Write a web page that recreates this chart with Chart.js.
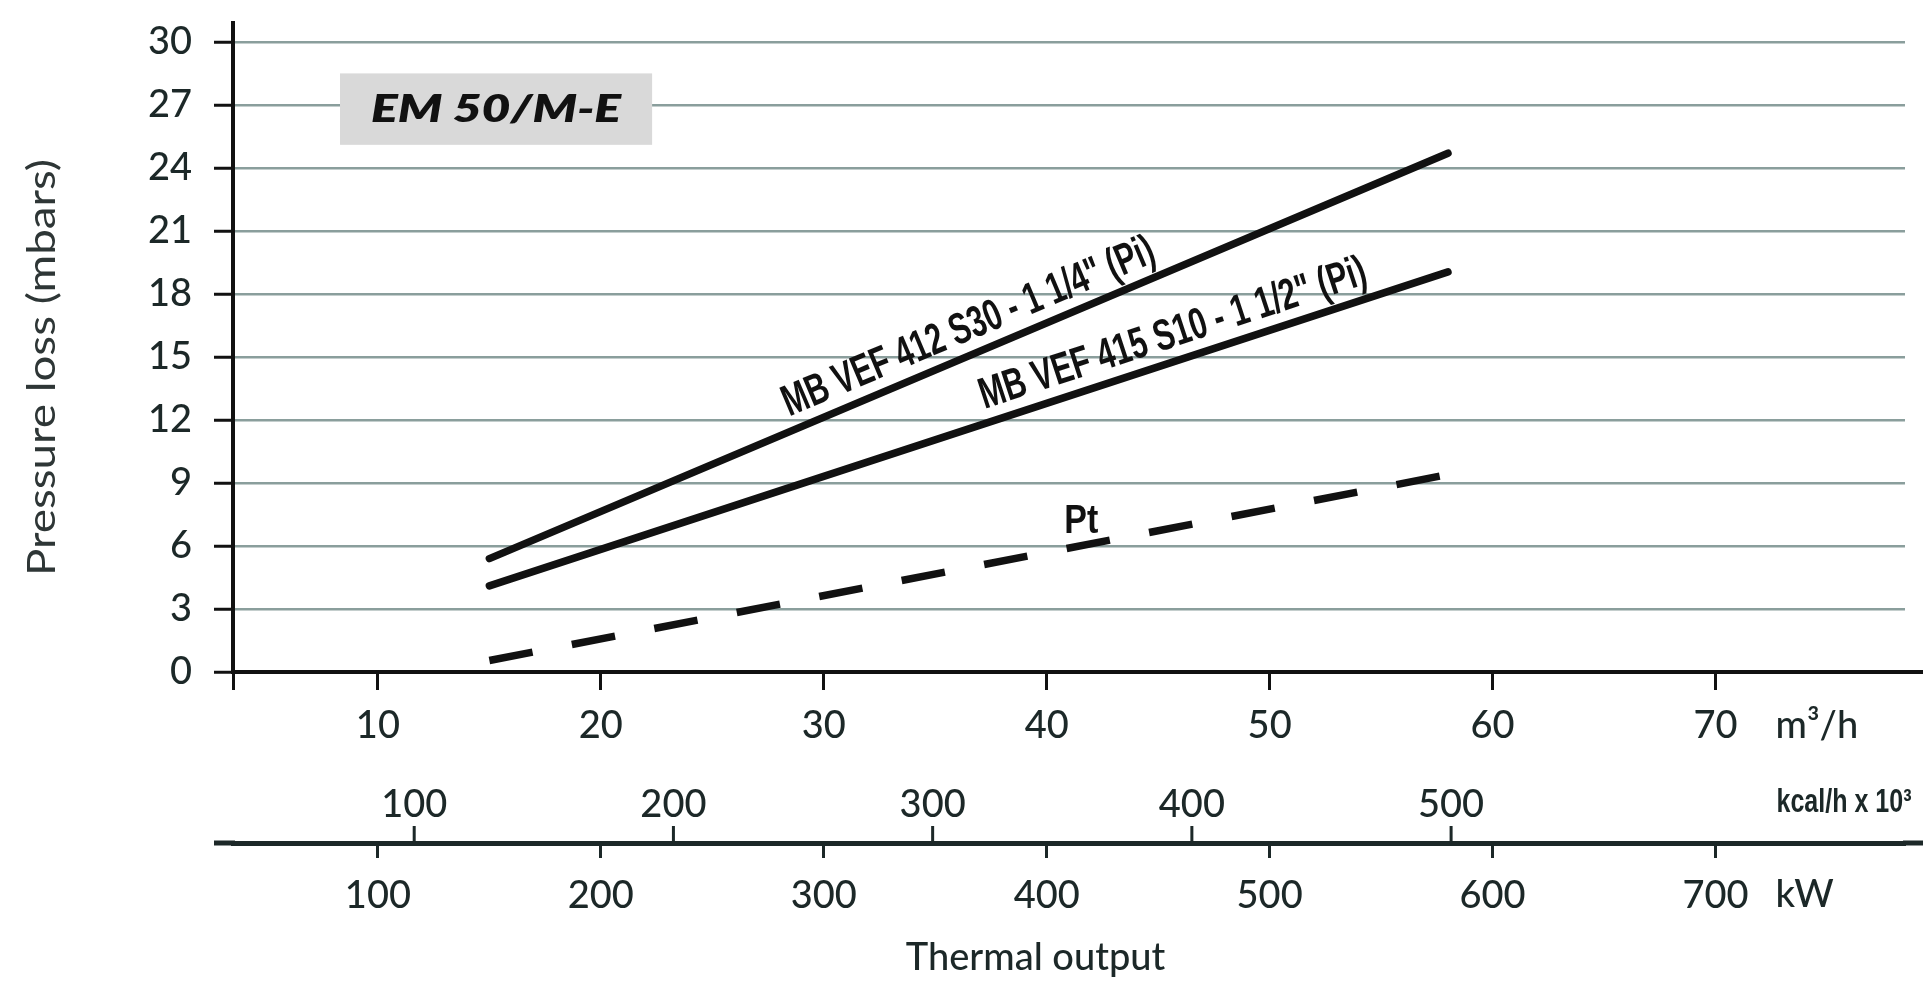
<!DOCTYPE html>
<html>
<head>
<meta charset="utf-8">
<title>EM 50/M-E pressure loss</title>
<script src="https://cdn.jsdelivr.net/npm/chart.js@4.4.1/dist/chart.umd.min.js"></script>
<style>
  html, body { margin: 0; padding: 0; background: #fff; }
  #wrap { width: 1923px; height: 994px; position: relative; }
</style>
</head>
<body>
<div id="wrap"><canvas id="lossChart"></canvas></div>
<script>
// curves (flow in m3/h, loss in mbar)
const flowPoints = [15, 58];
const lossVef412 = [5.4, 24.7];
const lossVef415 = [4.1, 19.05];
const lossPt = [0.55, 9.4];

const pressureTicks = [0, 3, 6, 9, 12, 15, 18, 21, 24, 27, 30];
const flowTicks = [10, 20, 30, 40, 50, 60, 70];
const kcalTicks = [100, 200, 300, 400, 500];
const kwTicks = [100, 200, 300, 400, 500, 600, 700];

const flowMin = 3.5, flowMax = 78.5;
const KCAL_PER_M3 = 8.6;   // kcal/h x 10^3 for 1 m3/h of gas
const KW_PER_M3 = 10;

const ink = '#1c2828';
const tickFont = { family: 'Lato', size: 38, weight: 500 };

// fixes the box sizes so the plot lands where the original one is
const fixSize = (prop, val) => (s) => {
    s[prop] = val;
    s.paddingTop = 0; s.paddingBottom = 0; s.paddingLeft = 0; s.paddingRight = 0;
};
const setTicks = (vals) => (s) => { s.ticks = vals.map(v => ({ value: v })); };

const fitText = (ctx, text, x, y, width) => {
    const w = ctx.measureText(text).width;
    ctx.save();
    ctx.translate(x, y);
    ctx.scale(width / w, 1);
    ctx.fillText(text, 0, 0);
    ctx.restore();
};

// label written along a curve, a little above it
const drawAlong = (chart, xs, ys, atFlow, text, width) => {
    const { ctx, scales: { x, y } } = chart;
    const xa = x.getPixelForValue(xs[0]), ya = y.getPixelForValue(ys[0]);
    const xb = x.getPixelForValue(xs[xs.length - 1]), yb = y.getPixelForValue(ys[ys.length - 1]);
    const px = x.getPixelForValue(atFlow);
    const py = ya + (yb - ya) * (px - xa) / (xb - xa);
    ctx.save();
    ctx.translate(px, py);
    ctx.rotate(Math.atan2(yb - ya, xb - xa));
    ctx.font = 'bold 44px "Liberation Sans"';
    ctx.fillStyle = '#111';
    ctx.textAlign = 'left';
    ctx.textBaseline = 'alphabetic';
    fitText(ctx, text, 0, -14, width);
    ctx.restore();
};

const diagramText = {
    id: 'diagramText',
    beforeDatasetsDraw(chart) {
        const { ctx, chartArea, scales: { x, y, kw } } = chart;
        ctx.save();
        // model badge
        const l = x.getPixelForValue(8.3), r = x.getPixelForValue(22.3);
        const t = y.getPixelForValue(28.5), b = y.getPixelForValue(25.1);
        ctx.fillStyle = '#d9d9d9';
        ctx.fillRect(l, t, r - l, b - t);
        ctx.fillStyle = '#111';
        ctx.font = 'italic 800 38px Lato';
        ctx.textAlign = 'center';
        ctx.textBaseline = 'middle';
        fitText(ctx, 'EM 50/M-E', (l + r) / 2, (t + b) / 2 + 1, 250);

        // axis title
        ctx.fillStyle = '#2e3636';
        ctx.font = '38px Lato';
        ctx.save();
        ctx.translate(43, y.getPixelForValue(14.5));
        ctx.rotate(-Math.PI / 2);
        fitText(ctx, 'Pressure loss (mbars)', 0, 0, 417);
        ctx.restore();

        // bottom lines run on to the page edge, the kW line also to the left
        ctx.strokeStyle = '#111';
        ctx.lineWidth = 4;
        ctx.beginPath();
        ctx.moveTo(chartArea.right - 2, x.top);
        ctx.lineTo(chart.width, x.top);
        ctx.stroke();
        ctx.strokeStyle = ink;
        ctx.lineWidth = 5;
        ctx.beginPath();
        ctx.moveTo(kw.left - 19, kw.top);
        ctx.lineTo(kw.left + 2, kw.top);
        ctx.moveTo(kw.right - 2, kw.top);
        ctx.lineTo(chart.width, kw.top);
        ctx.stroke();
        ctx.restore();
    },
    afterDatasetsDraw(chart) {
        const { ctx, scales: { x, y, kcal, kw } } = chart;
        drawAlong(chart, flowPoints, lossVef412, 28.7, 'MB VEF 412 S30 - 1 1/4" (Pi)', 400);
        drawAlong(chart, flowPoints, lossVef415, 37.4, 'MB VEF 415 S10 - 1 1/2" (Pi)', 405);

        ctx.save();
        // Pt label over the dashed curve
        const ptX = x.getPixelForValue(41.55);
        const ya = y.getPixelForValue(lossPt[0]), yb = y.getPixelForValue(lossPt[1]);
        const xa = x.getPixelForValue(flowPoints[0]), xb = x.getPixelForValue(flowPoints[1]);
        const ptY = ya + (yb - ya) * (ptX - xa) / (xb - xa);
        ctx.fillStyle = '#111';
        ctx.font = 'bold 40px "Liberation Sans"';
        ctx.textAlign = 'center';
        ctx.textBaseline = 'alphabetic';
        fitText(ctx, 'Pt', ptX, ptY - 13, 34);

        // unit names after the last tick of each scale
        ctx.fillStyle = ink;
        ctx.font = '500 38px Lato';
        ctx.textAlign = 'left';
        ctx.textBaseline = 'middle';
        ctx.fillText('m\u00b3/h', x.getPixelForValue(70) + 60, x.top + 54);
        ctx.fillText('kW', kw.getPixelForValue(700) + 60, kw.top + 52);
        ctx.font = 'bold 34px "Liberation Sans"';
        fitText(ctx, 'kcal/h x 10\u00b3', x.getPixelForValue(70) + 61, kcal.top + 59, 135);

        ctx.font = '500 38px Lato';
        ctx.textAlign = 'center';
        ctx.fillText('Thermal output', kw.getPixelForValue(395), kw.bottom - 36);

        // kcal tick marks stand on the kW line
        ctx.strokeStyle = ink;
        ctx.lineWidth = 3;
        ctx.beginPath();
        kcalTicks.forEach(v => {
            const px = kcal.getPixelForValue(v);
            ctx.moveTo(px, kw.top);
            ctx.lineTo(px, kw.top - 17);
        });
        ctx.stroke();
        ctx.restore();
    }
};

const toXY = (ys) => flowPoints.map((f, i) => ({ x: f, y: ys[i] }));

new Chart('lossChart', {
    type: 'scatter',
    data: {
        datasets: [
            {
                label: 'MB VEF 412 S30 - 1 1/4" (Pi)',
                data: toXY(lossVef412),
                showLine: true,
                borderColor: '#111',
                borderWidth: 7.5,
                borderCapStyle: 'round',
                pointRadius: 0
            },
            {
                label: 'MB VEF 415 S10 - 1 1/2" (Pi)',
                data: toXY(lossVef415),
                showLine: true,
                borderColor: '#111',
                borderWidth: 7.5,
                borderCapStyle: 'round',
                pointRadius: 0
            },
            {
                label: 'Pt',
                data: toXY(lossPt),
                showLine: true,
                borderColor: '#111',
                borderWidth: 7.5,
                borderDash: [44, 40],
                borderCapStyle: 'butt',
                pointRadius: 0
            }
        ]
    },
    options: {
        responsive: true,
        maintainAspectRatio: false,
        devicePixelRatio: 1,
        animation: false,
        layout: { padding: { top: 23, right: 18, bottom: 0, left: 0 } },
        plugins: {
            legend: { display: false },
            tooltip: { enabled: false }
        },
        scales: {
            x: {
                type: 'linear',
                position: 'bottom',
                weight: 0,
                min: flowMin,
                max: flowMax,
                afterBuildTicks: setTicks([flowMin, ...flowTicks]),
                afterFit: fixSize('height', 72),
                ticks: {
                    callback: v => flowTicks.includes(v) ? String(v) : '',
                    autoSkip: false, maxRotation: 0,
                    padding: 13, color: ink, font: tickFont
                },
                grid: { drawOnChartArea: false, tickLength: 18, tickColor: '#111', tickWidth: 3 },
                border: { color: '#111', width: 4 }
            },
            kcal: {
                type: 'linear',
                position: 'bottom',
                weight: 1,
                min: flowMin * KCAL_PER_M3,
                max: flowMax * KCAL_PER_M3,
                afterBuildTicks: setTicks(kcalTicks),
                afterFit: fixSize('height', 99),
                ticks: { autoSkip: false, maxRotation: 0, padding: 38, color: ink, font: tickFont },
                grid: { drawOnChartArea: false, drawTicks: false },
                border: { display: false }
            },
            kw: {
                type: 'linear',
                position: 'bottom',
                weight: 2,
                min: flowMin * KW_PER_M3,
                max: flowMax * KW_PER_M3,
                afterBuildTicks: setTicks(kwTicks),
                afterFit: fixSize('height', 151),
                ticks: { autoSkip: false, maxRotation: 0, padding: 15, color: ink, font: tickFont },
                grid: { drawOnChartArea: false, tickLength: 15, tickColor: ink, tickWidth: 3 },
                border: { color: ink, width: 5 }
            },
            y: {
                type: 'linear',
                min: 0,
                max: 30.9,
                afterBuildTicks: setTicks(pressureTicks),
                afterFit: fixSize('width', 233),
                ticks: { padding: 22, color: ink, font: tickFont },
                grid: { color: '#8a9e9c', lineWidth: 2.5, tickLength: 19, tickColor: '#111', tickWidth: 3 },
                border: { color: '#111', width: 4 }
            }
        }
    },
    plugins: [diagramText]
});
</script>
</body>
</html>
